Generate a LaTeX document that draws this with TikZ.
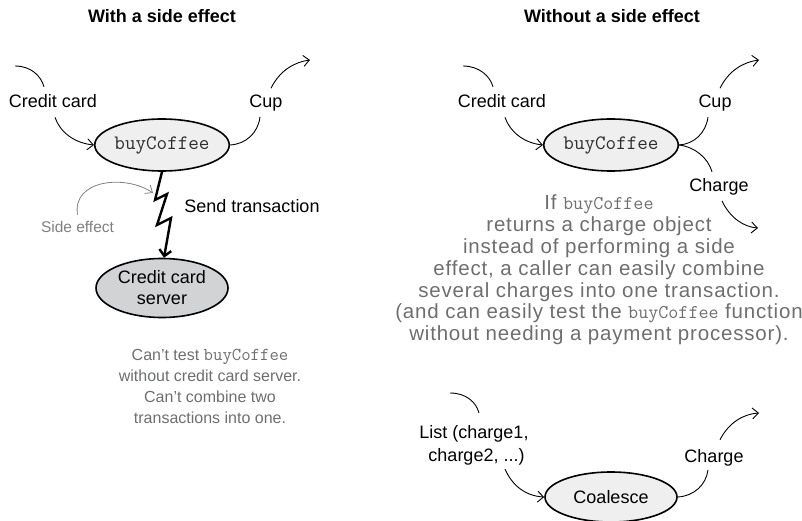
\documentclass[tikz,border=0pt]{standalone}
\usepackage{fontspec}
\setmainfont{Liberation Sans}
\setmonofont{Latin Modern Mono}[Scale=1.14]
\newfontfamily\lmmono{Latin Modern Mono}
\newfontfamily\widenote{Liberation Sans}[LetterSpace=4]
\usetikzlibrary{arrows.meta,shapes.geometric}
\definecolor{txtgray}{HTML}{6D6E70}
\definecolor{sidegray}{HTML}{7F8083}
\definecolor{codegray}{HTML}{2E2E2E}
\definecolor{lightfill}{HTML}{EFEFEF}
\definecolor{darkfill}{HTML}{D2D3D5}
\newcommand\rcode[1]{{\lmmono\fontsize{19.5}{21.8}\selectfont #1}}
\begin{document}
\begin{tikzpicture}[x=1pt,y=-1pt,
  lbl/.style={font=\fontsize{18}{21}\selectfont, inner sep=0pt, anchor=base},
  ttl/.style={font=\fontsize{18}{21}\selectfont\bfseries, inner sep=0pt, anchor=base},
  proc/.style={ellipse, draw=black, line width=1.6pt, minimum width=132pt, minimum height=52pt, inner sep=0pt,
    font=\fontsize{18}{21}\selectfont},
  plainline/.style={line width=0.9pt, black},
  flow/.style={plainline, -{Straight Barb[length=6pt,width=11pt,line width=0.9pt]}},
  bolt/.style={line width=2.4pt, line join=miter, -{Straight Barb[length=6pt,width=12pt,line width=2.4pt]}},
  sidearrow/.style={line width=0.8pt, sidegray, -{Straight Barb[length=6pt,width=10pt,line width=0.8pt]}},
  note/.style={align=center, text=txtgray, inner sep=0pt}
]
\useasboundingbox (0,0) rectangle (802,521);

% ---------------- left panel ----------------
\node[ttl] (t1) at (162,23) {With a side effect};
\node[lbl] (cc1) at (53,108) {Credit card};
\node[proc, fill=lightfill, text=codegray] (bc1) at (162,145) {\ttfamily buyCoffee};
\node[lbl] (cup1) at (266,108) {Cup};
\node[lbl] (send) at (252,213) {Send transaction};
\node[lbl, font=\fontsize{15.5}{18}\selectfont, text=sidegray] (se) at (77.5,233) {Side effect};
\node[proc, fill=darkfill, minimum height=59pt, align=center, font=\fontsize{18}{21}\selectfont] (srv) at (162,288) {Credit card\\server};
\node[note, font=\fontsize{16}{21}\selectfont] (n1) at (210,386) {Can’t test \texttt{buyCoffee}\\without credit card server.\\Can’t combine two\\transactions into one.};

\coordinate (in1) at (15,66);
\coordinate (out1) at (310,60);
\coordinate (z1) at (155,200);
\coordinate (z2) at (167,194);
\coordinate (z3) at (157,225);
\coordinate (z4) at (171,218);
\coordinate (setip) at (153,193);

\draw[plainline] (in1) .. controls (31,66) and (41,76) .. ([xshift=-9pt,yshift=8pt]cc1.north);
\draw[flow] ([xshift=2pt,yshift=-9pt]cc1.south) .. controls (60,132) and (74,143) .. (bc1.west);
\draw[plainline] (bc1.east) .. controls (246,144) and (258,133) .. ([xshift=-6pt,yshift=-5pt]cup1.south);
\draw[flow] ([xshift=5pt,yshift=7pt]cup1.north) .. controls (280,70) and (295,62) .. (out1);
\draw[bolt] (bc1.south) -- (z1) -- (z2) -- (z3) -- (z4) -- ([xshift=2pt]srv.north);
\draw[sidearrow] ([yshift=7pt]se.north) .. controls (72,180) and (125,174) .. (setip);

% ---------------- right panel ----------------
\node[ttl] (t2) at (612,23) {Without a side effect};
\node[lbl] (cc2) at (502,108) {Credit card};
\node[proc, fill=lightfill, text=codegray] (bc2) at (611,145) {\ttfamily buyCoffee};
\node[lbl] (cup2) at (715,108) {Cup};
\node[lbl] (chg) at (719,192) {Charge};
\node[note, font=\widenote\fontsize{20.5}{21.8}\selectfont] (n2) at (599,270) {If \rcode{buyCoffee}\\returns a charge object\\instead of performing a side\\effect, a caller can easily combine\\several charges into one transaction.\\(and can easily test the \rcode{buyCoffee} function\\without needing a payment processor).};

\coordinate (in2) at (463,66);
\coordinate (out2) at (759,60);
\coordinate (out3) at (758,228);

\draw[plainline] (in2) .. controls (479,66) and (490,76) .. ([xshift=-9pt,yshift=8pt]cc2.north);
\draw[flow] ([xshift=3pt,yshift=-9pt]cc2.south) .. controls (510,132) and (524,143) .. (bc2.west);
\draw[plainline] (bc2.east) .. controls (694,144) and (706,133) .. ([xshift=-7pt,yshift=-5pt]cup2.south);
\draw[flow] ([xshift=5pt,yshift=7pt]cup2.north) .. controls (729,70) and (744,62) .. (out2);
\draw[plainline] (bc2.east) .. controls (695,147) and (708,158) .. ([xshift=-7pt,yshift=7pt]chg.north);
\draw[flow] ([xshift=3pt,yshift=-5pt]chg.south) .. controls (730,218) and (744,227) .. (out3);

% ---------------- bottom right ----------------
\node[note, text=black, font=\fontsize{18}{23}\selectfont] (lst) at (474,445) {List (charge1,\\\ charge2, ...)};
\node[proc, fill=lightfill, minimum height=50pt] (co) at (611,497) {Coalesce};
\node[lbl] (chg2) at (714,462) {Charge};
\coordinate (in3) at (450,393);
\coordinate (out4) at (759,413);

\draw[plainline] (in3) .. controls (466,393) and (476,402) .. ([xshift=5pt,yshift=12pt]lst.north);
\draw[flow] ([xshift=31pt,yshift=-4pt]lst.south) .. controls (512,485) and (525,496) .. (co.west);
\draw[plainline] (co.east) .. controls (694,496) and (706,485) .. ([xshift=-6pt,yshift=-4pt]chg2.south);
\draw[flow] ([xshift=6pt,yshift=9pt]chg2.north) .. controls (729,422) and (744,414) .. (out4);
\end{tikzpicture}
\end{document}
